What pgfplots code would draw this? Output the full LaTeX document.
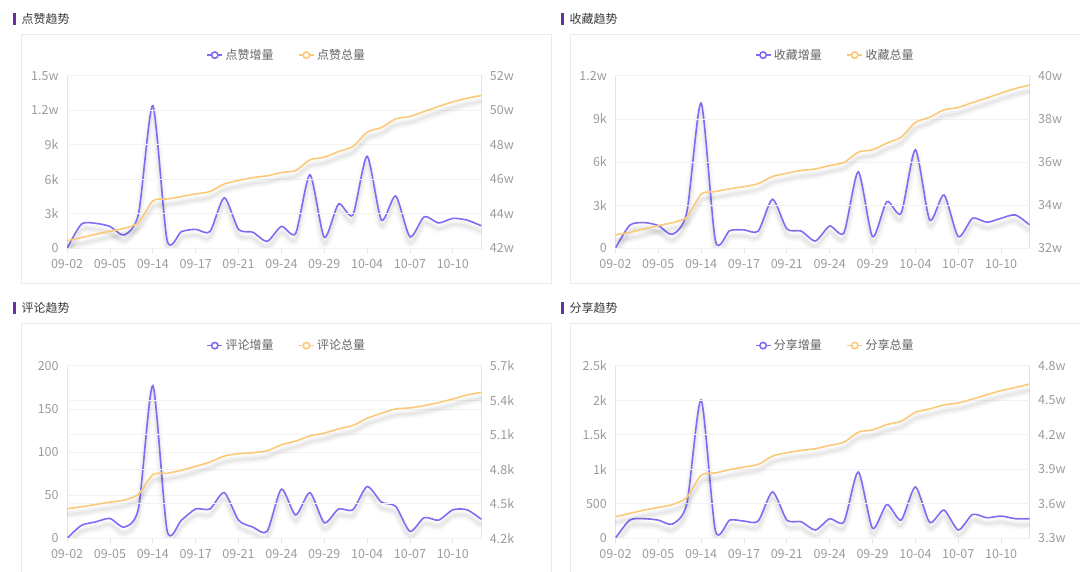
\documentclass[border=0pt]{standalone}
\usepackage{fontspec}
\setmainfont{Noto Sans CJK SC}
\usepackage{pgfplots}
\usepackage{pgfplotstable}
\pgfplotsset{compat=1.18}
\definecolor{lineP}{HTML}{7E6CF4}
\definecolor{lineY}{HTML}{FCC978}
\definecolor{barP}{HTML}{6A2FA0}
\definecolor{tickG}{HTML}{9C9C9C}
\definecolor{axG}{HTML}{E3E3E3}
\definecolor{gridG}{HTML}{F2F2F2}
\definecolor{boxG}{HTML}{EBEBEB}
\definecolor{titleG}{HTML}{3A3A3A}
\definecolor{legG}{HTML}{666666}

% x inc tot
\pgfplotstableread{
x inc tot
0 0 424400
1 2100 426200
2 2170 428100
3 1900 429900
4 1160 431600
5 3000 434900
6 12400 447500
7 700 448600
8 1450 450000
9 1650 451500
10 1450 452900
11 4400 457300
12 1650 459300
13 1400 461000
14 600 462000
15 1900 463900
16 1300 465100
17 6400 471300
18 950 472800
19 3850 476100
20 2900 479000
21 8000 487300
22 2450 490000
23 4550 495000
24 1000 496400
25 2750 499300
26 2200 502200
27 2600 504900
28 2450 507000
29 1950 508600
}\likes
\pgfplotstableread{
x inc tot
0 0 326200
1 1600 327400
2 1790 329000
3 1580 330500
4 970 331900
5 2500 334400
6 10100 345100
7 530 346300
8 1230 347600
9 1280 348600
10 1200 350000
11 3410 353300
12 1350 354800
13 1200 356100
14 510 356800
15 1550 358400
16 1090 359800
17 5320 364600
18 810 365700
19 3250 368800
20 2440 371500
21 6850 378400
22 1970 380800
23 3710 384200
24 810 385300
25 2090 387600
26 1810 389700
27 2090 392000
28 2320 394100
29 1620 395700
}\favs
\pgfplotstableread{
x inc tot
0 0 4457
1 15 4474
2 19 4494
3 23 4514
4 13 4532
5 35 4584
6 177 4754
7 9 4765
8 21 4791
9 34 4826
10 34 4863
11 53 4915
12 21 4935
13 13 4944
14 8 4961
15 57 5013
16 27 5045
17 53 5091
18 18 5114
19 34 5152
20 33 5181
21 60 5244
22 42 5287
23 37 5325
24 8 5334
25 24 5354
26 21 5380
27 33 5411
28 33 5446
29 22 5469
}\comments
\pgfplotstableread{
x inc tot
0 0 34875
1 264 35160
2 284 35450
3 264 35680
4 207 35940
5 500 36550
6 2005 38480
7 110 38680
8 264 38970
9 250 39200
10 250 39430
11 673 40150
12 264 40440
13 240 40640
14 120 40790
15 284 41080
16 240 41360
17 962 42230
18 144 42430
19 490 42890
20 264 43180
21 745 43960
22 230 44250
23 409 44600
24 120 44770
25 346 45110
26 298 45490
27 322 45840
28 284 46120
29 284 46410
}\shares

\pgfplotsset{
  base/.style={scale only axis, width=414.3pt, height=172.5pt,
    xmin=0, xmax=29, anchor=south west,
    scaled y ticks=false, scaled x ticks=false,
    tick label style={font=\fontsize{12.5}{14}\selectfont, text=tickG},
    /pgf/number format/assume math mode=true,
    ymajorgrids, major grid style={draw=gridG, line width=0.8pt},
    major tick length=5pt, tick align=outside,
    every tick/.style={draw=axG, line width=0.8pt},
    ytick style={draw=none},
  },
  leftax/.style={base,
    axis line style={draw=axG, line width=0.8pt},
    xtick={0,3,...,27},
    xticklabels={09-02,09-05,09-14,09-17,09-21,09-24,09-29,10-04,10-07,10-10},
    xticklabel style={yshift=-3pt},
    xtick pos=lower, ytick pos=left,
    legend columns=2,
    legend style={at={(0.531,1.12)}, anchor=center, draw=none, fill=none,
      font=\fontsize{12}{14}\selectfont, text=legG,
      nodes={inner xsep=2.5pt},
      /tikz/every even column/.append style={column sep=22pt}},
    legend image code/.code={\draw[mark repeat=2,mark phase=2,##1] plot coordinates {(0pt,0pt) (7.5pt,0pt) (15pt,0pt)};},
  },
  rightax/.style={base, axis y line*=right, axis x line=none,
    y axis line style={draw=none}},
  incline/.style={lineP, line width=1.6pt, smooth, tension=0.42, no markers},
  totline/.style={lineY, line width=1.6pt, smooth, tension=0.42, no markers},
  shA/.style={black, opacity=0.022, line width=9pt, smooth, tension=0.42, no markers, yshift=-6pt, forget plot},
  shB/.style={black, opacity=0.03, line width=5.5pt, smooth, tension=0.42, no markers, yshift=-6pt, forget plot},
  shC/.style={black, opacity=0.035, line width=2.5pt, smooth, tension=0.42, no markers, yshift=-6pt, forget plot},
}
\newcommand{\shadowplot}[2]{%
  \addplot[shA] table[x=x,y=#2]{#1};
  \addplot[shB] table[x=x,y=#2]{#1};
  \addplot[shC] table[x=x,y=#2]{#1};
}
\newcommand{\legendpair}[2]{%
  \addlegendimage{lineP, line width=1.6pt, mark=*, mark size=3.2pt, mark options={fill=white, line width=1.6pt}}
  \addlegendentry{#1}
  \addlegendimage{lineY, line width=1.6pt, mark=*, mark size=3.2pt, mark options={fill=white, line width=1.6pt}}
  \addlegendentry{#2}
}

\begin{document}
\begin{tikzpicture}
\fill[white] (0pt,0pt) rectangle (1080pt,572pt);
% boxes
\begin{scope}
\clip (0pt,0pt) rectangle (1080pt,572pt);
\draw[boxG, line width=0.8pt] (21pt,288.7pt) rectangle (551.4pt,537.7pt);
\draw[boxG, line width=0.8pt] (570pt,288.7pt) rectangle (1100pt,537.7pt);
\draw[boxG, line width=0.8pt] (21pt,-10pt) rectangle (551.4pt,248.7pt);
\draw[boxG, line width=0.8pt] (570pt,-10pt) rectangle (1100pt,248.7pt);
\end{scope}
% titles
\fill[barP] (13pt,547pt) rectangle (15.6pt,559.3pt);
\node[anchor=west, inner sep=0, font=\fontsize{12}{14}\selectfont, text=titleG] at (21.3pt,553pt) {点赞趋势};
\fill[barP] (561.3pt,547pt) rectangle (563.9pt,559.3pt);
\node[anchor=west, inner sep=0, font=\fontsize{12}{14}\selectfont, text=titleG] at (569.3pt,553pt) {收藏趋势};
\fill[barP] (13pt,258pt) rectangle (15.6pt,270.3pt);
\node[anchor=west, inner sep=0, font=\fontsize{12}{14}\selectfont, text=titleG] at (21.3pt,264.3pt) {评论趋势};
\fill[barP] (561.3pt,258pt) rectangle (563.9pt,270.3pt);
\node[anchor=west, inner sep=0, font=\fontsize{12}{14}\selectfont, text=titleG] at (569.3pt,264.3pt) {分享趋势};

% ---------- panel 1 ----------
\begin{axis}[leftax, at={(67.1pt,323.7pt)}, ymin=0, ymax=15000,
  ytick={0,3000,6000,9000,12000,15000}, yticklabels={0,3k,6k,9k,1.2w,1.5w}]
\shadowplot{\likes}{inc}
\addplot[incline, forget plot] table[x=x,y=inc]{\likes};
\legendpair{点赞增量}{点赞总量}
\end{axis}
\begin{axis}[rightax, at={(67.1pt,323.7pt)}, ymin=420000, ymax=520000,
  ytick={420000,440000,460000,480000,500000,520000}, yticklabels={42w,44w,46w,48w,50w,52w}]
\shadowplot{\likes}{tot}
\addplot[totline] table[x=x,y=tot]{\likes};
\end{axis}

% ---------- panel 2 ----------
\begin{axis}[leftax, at={(615.4pt,323.7pt)}, ymin=0, ymax=12000,
  ytick={0,3000,6000,9000,12000}, yticklabels={0,3k,6k,9k,1.2w}]
\shadowplot{\favs}{inc}
\addplot[incline, forget plot] table[x=x,y=inc]{\favs};
\legendpair{收藏增量}{收藏总量}
\end{axis}
\begin{axis}[rightax, at={(615.4pt,323.7pt)}, ymin=320000, ymax=400000,
  ytick={320000,340000,360000,380000,400000}, yticklabels={32w,34w,36w,38w,40w}]
\shadowplot{\favs}{tot}
\addplot[totline] table[x=x,y=tot]{\favs};
\end{axis}

% ---------- panel 3 ----------
\begin{axis}[leftax, at={(67.1pt,33.7pt)}, ymin=0, ymax=200,
  ytick={0,50,100,150,200}, yticklabels={0,50,100,150,200},
  legend style={at={(0.531,1.117)}}]
\shadowplot{\comments}{inc}
\addplot[incline, forget plot] table[x=x,y=inc]{\comments};
\legendpair{评论增量}{评论总量}
\end{axis}
\begin{axis}[rightax, at={(67.1pt,33.7pt)}, ymin=4200, ymax=5700,
  ytick={4200,4500,4800,5100,5400,5700}, yticklabels={4.2k,4.5k,4.8k,5.1k,5.4k,5.7k}]
\shadowplot{\comments}{tot}
\addplot[totline] table[x=x,y=tot]{\comments};
\end{axis}

% ---------- panel 4 ----------
\begin{axis}[leftax, at={(615.4pt,33.7pt)}, ymin=0, ymax=2500,
  ytick={0,500,1000,1500,2000,2500}, yticklabels={0,500,1k,1.5k,2k,2.5k},
  legend style={at={(0.531,1.117)}}]
\shadowplot{\shares}{inc}
\addplot[incline, forget plot] table[x=x,y=inc]{\shares};
\legendpair{分享增量}{分享总量}
\end{axis}
\begin{axis}[rightax, at={(615.4pt,33.7pt)}, ymin=33000, ymax=48000,
  ytick={33000,36000,39000,42000,45000,48000}, yticklabels={3.3w,3.6w,3.9w,4.2w,4.5w,4.8w}]
\shadowplot{\shares}{tot}
\addplot[totline] table[x=x,y=tot]{\shares};
\end{axis}
\end{tikzpicture}
\end{document}
